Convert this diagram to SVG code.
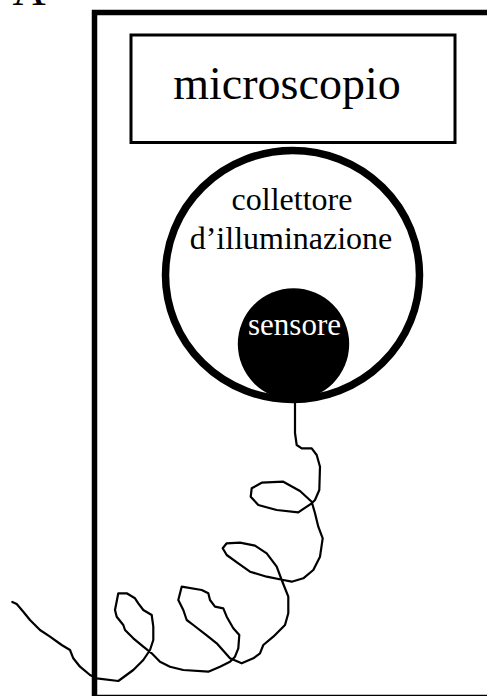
<svg xmlns="http://www.w3.org/2000/svg" width="487" height="696" viewBox="0 0 487 696">
<style>
.t{font-family:"Liberation Serif","Times New Roman",serif;text-anchor:middle;}
.frame{fill:none;stroke:#000;}
.cable{fill:none;stroke:#000;stroke-width:2.2;stroke-linejoin:round;stroke-linecap:round;}
</style>
<rect width="487" height="696" fill="#fff"/>
<text class="t" x="29" y="5" font-size="46" fill="#000">A</text>
<g id="housing"><rect class="frame" x="94.5" y="12.5" width="500" height="685" stroke-width="5.5"/></g>
<g id="microscopio">
<rect class="frame" x="131" y="35" width="324" height="107.5" stroke-width="3"/>
<text class="t" x="287" y="98.5" font-size="46">microscopio</text>
</g>
<g id="collettore">
<ellipse class="frame" cx="292.5" cy="275" rx="127" ry="124.5" stroke-width="7.5"/>
<text class="t" x="292" y="209.5" font-size="32">collettore</text>
<text class="t" x="291" y="248.5" font-size="32">d’illuminazione</text>
</g>
<g id="sensore">
<circle cx="293.5" cy="344" r="55.7" fill="#000"/>
<text class="t" x="294.5" y="335" font-size="31" fill="#fff">sensore</text>
</g>
<g id="connectors">
<path class="cable" d="M295,399 L295,433 L296.7,445 L301.7,448.3 L311.7,448.3 L316.7,455 L320,466.7 L319.3,490 L315,500 L311.7,503.3 L298.3,512.3 L276.7,510 L258.3,505 L250.7,496.7 L251.7,488.3 L261.7,482.7 L283.3,481.7 L300,491 L311.7,501.7 L315,513.3 L318.3,526.7 L322.7,538.3 L320,556.7 L313.3,570 L303.3,578.3 L291.7,581.7 L283.3,580 L266.7,576.7 L250,571.7 L238.3,563.3 L226.7,555 L222.7,548.3 L226.7,543.3 L240,542.7 L255,545.7 L266.7,553.3 L276.7,566.7 L281.7,580 L288.3,596.7 L288.3,613.3 L285,625 L273.3,636.7 L263.3,645 L260,653.3 L253.3,658.3 L241.7,663.3 L230,658.3 L216.7,643.3 L208.3,636.7 L193.3,625 L186.7,620 L183.3,610 L178.3,600 L181.7,586.7 L201.7,590 L208.3,593.3 L210,600 L215,606.7 L223.3,608.3 L226.7,616.7 L233.3,628.3 L239.3,635 L238.3,648.3 L235,656.7 L230,661.7 L220,666.7 L208.3,671.7 L183.3,670 L170,666.7 L160,661.7 L151.7,653.3 L143.3,646.7 L133.3,638.3 L125,630 L123.3,625 L116.7,616.7 L115,610 L118.3,593.3 L126.7,593.3 L135,598.3 L138.3,603.3 L143.3,610 L151.7,615 L153.3,626.7 L153.3,640 L150,650 L143.3,660 L133.3,670 L118.3,681 L96.7,678.3 L90,675 L80,666.7 L73.3,658.3 L70,650 L61.7,645 L50,636.7 L40,630 L30,620 L23.3,611.7 L16.7,604 L12.3,602"/>
</g>
</svg>
